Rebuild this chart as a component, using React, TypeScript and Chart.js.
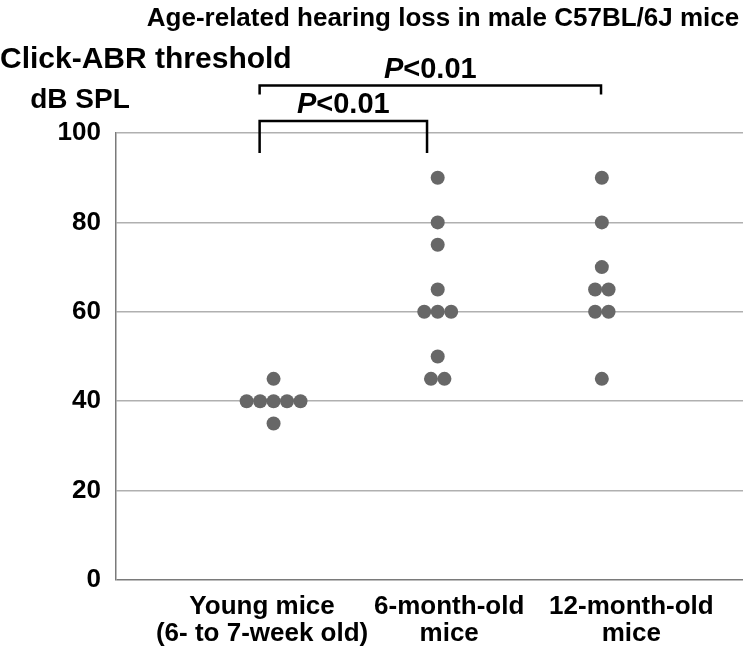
import React, { useEffect, useRef } from "react";
import { Chart, registerables } from "chart.js";

Chart.register(...registerables);

const TITLE = "Age-related hearing loss in male C57BL/6J mice";
const Y_TITLE = ["Click-ABR threshold", "dB SPL"];
const categories: string[][] = [
  ["Young mice", "(6- to 7-week old)"],
  ["6-month-old", "mice"],
  ["12-month-old", "mice"],
];
const youngValues = [45, 40, 40, 40, 40, 40, 35];
const sixMonthValues = [90, 80, 75, 65, 60, 60, 60, 50, 45, 45];
const twelveMonthValues = [90, 80, 70, 65, 65, 60, 60, 45];
const yTicks = [0, 20, 40, 60, 80, 100];
// x positions (in group units) where category labels sit
const labelPositions = [-0.07, 1.07, 2.18];
// bracket end positions in group units
const bracketEnds = [-0.085, 0.935, 1.995];
const comparisons = [
  { from: 0, to: 2, top: 110.6, drop: 108.6, label: "<0.01" },
  { from: 0, to: 1, top: 102.7, drop: 95.5, label: "<0.01" },
];

const FONT = "'Liberation Sans', Arial, sans-serif";
const DOT = "#676767";
const SPACING = 0.082;

function swarm(values: number[], group: number) {
  const counts: Record<number, number> = {};
  values.forEach((v) => (counts[v] = (counts[v] || 0) + 1));
  const seen: Record<number, number> = {};
  return values.map((v) => {
    const n = counts[v];
    const k = seen[v] || 0;
    seen[v] = k + 1;
    return { x: group + (k - (n - 1) / 2) * SPACING, y: v };
  });
}

const overlay = {
  id: "overlay",
  afterDraw(chart: any) {
    const { ctx, scales } = chart;
    const x = scales.x;
    const y = scales.y;
    ctx.save();
    ctx.fillStyle = "#000";
    ctx.textBaseline = "middle";
    ctx.font = `bold 26px ${FONT}`;
    ctx.textAlign = "center";
    ctx.fillText(TITLE, 443, 19);
    ctx.textAlign = "left";
    ctx.font = `bold 30px ${FONT}`;
    ctx.fillText(Y_TITLE[0], 0, 60);
    ctx.textAlign = "center";
    ctx.font = `bold 28px ${FONT}`;
    ctx.fillText(Y_TITLE[1], 80, 100);

    ctx.strokeStyle = "#000";
    ctx.lineWidth = 2.5;
    comparisons.forEach((c) => {
      const x1 = x.getPixelForValue(bracketEnds[c.from]);
      const x2 = x.getPixelForValue(bracketEnds[c.to]);
      const yt = y.getPixelForValue(c.top);
      const yd = y.getPixelForValue(c.drop);
      ctx.beginPath();
      ctx.moveTo(x1, yd);
      ctx.lineTo(x1, yt);
      ctx.lineTo(x2, yt);
      ctx.lineTo(x2, yd);
      ctx.stroke();
      const cx = (x1 + x2) / 2;
      ctx.font = `italic bold 29px ${FONT}`;
      const wp = ctx.measureText("P").width;
      ctx.font = `bold 29px ${FONT}`;
      const wr = ctx.measureText(c.label).width;
      const start = cx - (wp + wr) / 2;
      ctx.textAlign = "left";
      ctx.font = `italic bold 29px ${FONT}`;
      ctx.fillText("P", start, yt - 16);
      ctx.font = `bold 29px ${FONT}`;
      ctx.fillText(c.label, start + wp, yt - 16);
    });
    ctx.restore();
  },
};

export default function App() {
  const ref = useRef<HTMLCanvasElement>(null);
  useEffect(() => {
    if (!ref.current) return;
    const data = [
      ...swarm(youngValues, 0),
      ...swarm(sixMonthValues, 1),
      ...swarm(twelveMonthValues, 2),
    ];
    const chart = new Chart(ref.current, {
      type: "scatter",
      data: {
        datasets: [
          {
            data,
            backgroundColor: DOT,
            borderWidth: 0,
            pointRadius: 7,
            pointHoverRadius: 7,
          },
        ],
      },
      options: {
        responsive: false,
        animation: false,
        layout: { padding: { top: 133, right: 2, left: 0, bottom: 0 } },
        plugins: { legend: { display: false }, tooltip: { enabled: false }, title: { display: false } },
        scales: {
          x: {
            type: "linear",
            min: -0.96,
            max: 2.86,
            afterBuildTicks: (s: any) => {
              s.ticks = labelPositions.map((v) => ({ value: v }));
            },
            afterFit: (s: any) => {
              s.height = 72;
            },
            grid: { display: false, drawTicks: false },
            border: { display: false },
            ticks: {
              autoSkip: false,
              maxRotation: 0,
              padding: 13,
              color: "#000",
              font: { family: FONT, size: 26, weight: "bold", lineHeight: 1.05 },
              callback: (_v: any, i: number) => categories[i],
            },
          },
          y: {
            min: 0,
            max: 100,
            afterBuildTicks: (s: any) => {
              s.ticks = yTicks.map((v) => ({ value: v }));
            },
            afterFit: (s: any) => {
              s.width = 116;
            },
            grid: {
              drawTicks: false,
              lineWidth: 1.5,
              color: (c: any) => (c.tick && c.tick.value === 0 ? "#7a7a7a" : "#b0b0b0"),
            },
            border: { display: true, color: "#7a7a7a", width: 1.5 },
            ticks: {
              padding: 15,
              color: "#000",
              font: { family: FONT, size: 26, weight: "bold" },
            },
          },
        },
      },
      plugins: [overlay],
    });
    return () => chart.destroy();
  }, []);
  return (
    <div style={{ position: "fixed", left: 0, top: 0, width: 750, height: 652, background: "#fff" }}>
      <canvas ref={ref} width={750} height={652} style={{ width: 750, height: 652 }} />
    </div>
  );
}
